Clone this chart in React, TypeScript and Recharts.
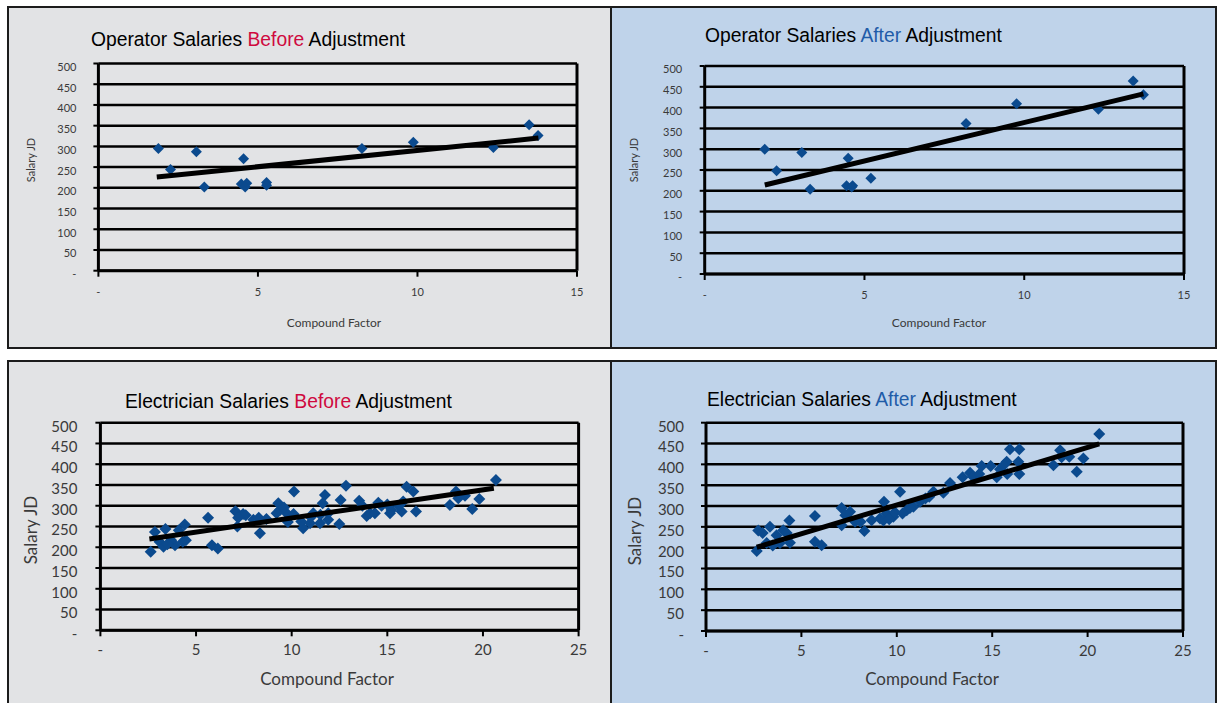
import React from 'react';
import { ScatterChart, Scatter, XAxis, YAxis, CartesianGrid, ReferenceLine } from 'recharts';

// ---------- DATA ----------
const operatorBefore = [
  { x: 1.88, y: 295 }, { x: 2.26, y: 244 }, { x: 3.07, y: 287 }, { x: 3.32, y: 202 },
  { x: 4.55, y: 270 }, { x: 4.48, y: 209 }, { x: 4.65, y: 211 }, { x: 4.6, y: 202 },
  { x: 5.27, y: 213 }, { x: 5.27, y: 206 }, { x: 8.26, y: 295 }, { x: 9.87, y: 310 },
  { x: 12.38, y: 297 }, { x: 13.5, y: 352 }, { x: 13.78, y: 326 },
];
const operatorBeforeTrend = [{ x: 1.83, y: 226 }, { x: 13.79, y: 320 }];

const operatorAfter = [
  { x: 1.88, y: 300 }, { x: 2.25, y: 248 }, { x: 3.04, y: 292 }, { x: 3.3, y: 204 },
  { x: 4.49, y: 278 }, { x: 4.44, y: 212 }, { x: 4.63, y: 212 }, { x: 4.6, y: 209 },
  { x: 5.2, y: 230 }, { x: 8.18, y: 362 }, { x: 9.76, y: 409 }, { x: 12.32, y: 396 },
  { x: 13.41, y: 464 }, { x: 13.73, y: 431 },
];
const operatorAfterTrend = [{ x: 1.88, y: 214 }, { x: 13.73, y: 433 }];

const electricianBefore = [
  { x: 2.63, y: 189 }, { x: 2.85, y: 237 }, { x: 3.4, y: 244 }, { x: 3.09, y: 213 },
  { x: 3.3, y: 201 }, { x: 3.9, y: 205 }, { x: 4.31, y: 213 }, { x: 4.1, y: 241 },
  { x: 4.41, y: 255 }, { x: 4.47, y: 217 }, { x: 3.7, y: 217 }, { x: 3.5, y: 207 },
  { x: 5.63, y: 271 }, { x: 5.83, y: 205 }, { x: 6.14, y: 197 },
  { x: 7.06, y: 287 }, { x: 7.16, y: 250 }, { x: 7.46, y: 280 }, { x: 7.6, y: 277 }, { x: 7.2, y: 271 },
  { x: 8.34, y: 234 }, { x: 8.0, y: 266 }, { x: 8.28, y: 271 }, { x: 8.68, y: 268 },
  { x: 9.3, y: 306 }, { x: 9.39, y: 290 }, { x: 9.21, y: 282 }, { x: 9.74, y: 282 }, { x: 9.6, y: 296 },
  { x: 9.8, y: 261 }, { x: 10.12, y: 334 }, { x: 10.1, y: 280 },
  { x: 10.6, y: 246 }, { x: 10.5, y: 262 }, { x: 10.96, y: 258 }, { x: 11.13, y: 282 }, { x: 11.0, y: 272 },
  { x: 11.48, y: 258 }, { x: 11.62, y: 306 }, { x: 11.74, y: 326 }, { x: 11.91, y: 266 }, { x: 11.91, y: 282 },
  { x: 11.5, y: 278 }, { x: 12.49, y: 256 }, { x: 12.56, y: 314 }, { x: 12.84, y: 348 },
  { x: 13.53, y: 312 }, { x: 13.7, y: 300 }, { x: 13.92, y: 275 }, { x: 14.1, y: 282 }, { x: 14.35, y: 282 },
  { x: 14.53, y: 307 }, { x: 14.7, y: 300 },
  { x: 15.14, y: 282 }, { x: 15.22, y: 290 }, { x: 15.0, y: 303 }, { x: 15.75, y: 286 }, { x: 15.83, y: 310 },
  { x: 16.01, y: 346 }, { x: 16.36, y: 334 }, { x: 16.5, y: 286 }, { x: 15.6, y: 300 },
  { x: 18.27, y: 302 }, { x: 18.59, y: 334 }, { x: 18.71, y: 318 }, { x: 19.06, y: 324 }, { x: 19.44, y: 292 },
  { x: 19.81, y: 316 }, { x: 20.68, y: 362 },
];
const electricianBeforeTrend = [{ x: 2.56, y: 220 }, { x: 20.57, y: 342 }];

const electricianAfter = [
  { x: 2.66, y: 192 }, { x: 2.74, y: 241 }, { x: 2.97, y: 235 }, { x: 3.35, y: 250 }, { x: 3.18, y: 211 },
  { x: 3.7, y: 230 }, { x: 3.88, y: 211 }, { x: 4.37, y: 265 }, { x: 4.05, y: 242 }, { x: 4.4, y: 212 },
  { x: 4.23, y: 235 }, { x: 3.5, y: 205 },
  { x: 5.71, y: 276 }, { x: 5.71, y: 214 }, { x: 6.06, y: 206 },
  { x: 7.11, y: 295 }, { x: 7.11, y: 254 }, { x: 7.55, y: 286 }, { x: 7.81, y: 262 }, { x: 7.3, y: 278 },
  { x: 8.3, y: 240 }, { x: 8.68, y: 266 }, { x: 8.1, y: 262 },
  { x: 9.12, y: 270 }, { x: 9.33, y: 310 }, { x: 9.47, y: 282 }, { x: 9.82, y: 274 }, { x: 9.3, y: 265 },
  { x: 9.6, y: 268 }, { x: 9.9, y: 285 },
  { x: 10.17, y: 334 }, { x: 10.52, y: 290 }, { x: 10.87, y: 298 }, { x: 10.69, y: 295 }, { x: 10.3, y: 282 },
  { x: 11.22, y: 310 }, { x: 11.5, y: 318 }, { x: 11.92, y: 334 }, { x: 11.7, y: 322 },
  { x: 12.44, y: 332 }, { x: 12.79, y: 355 },
  { x: 13.45, y: 369 }, { x: 13.84, y: 380 }, { x: 14.0, y: 370 }, { x: 14.32, y: 377 }, { x: 14.45, y: 396 },
  { x: 14.92, y: 396 }, { x: 15.24, y: 369 }, { x: 15.41, y: 388 }, { x: 15.76, y: 406 }, { x: 15.79, y: 377 },
  { x: 15.93, y: 436 }, { x: 16.42, y: 436 }, { x: 16.37, y: 406 }, { x: 16.42, y: 377 }, { x: 15.6, y: 398 },
  { x: 18.21, y: 398 }, { x: 18.56, y: 434 }, { x: 18.64, y: 417 }, { x: 19.04, y: 418 }, { x: 19.43, y: 382 },
  { x: 19.78, y: 414 }, { x: 20.61, y: 473 },
];
const electricianAfterTrend = [{ x: 2.66, y: 201 }, { x: 20.61, y: 449 }];

const yTicks = [0, 50, 100, 150, 200, 250, 300, 350, 400, 450, 500];
const operatorXTicks = [0, 5, 10, 15];
const electricianXTicks = [0, 5, 10, 15, 20, 25];

const titleStart = { operator: 'Operator Salaries ', electrician: 'Electrician Salaries ' };
const titleEnd = ' Adjustment';
const xLabel = 'Compound Factor';
const yLabel = 'Salary JD';

// ---------- STYLE ----------
const GRAY_BG = '#e2e3e5';
const BLUE_BG = '#bfd3ea';
const BEFORE_COLOR = '#cf0a3f';
const AFTER_COLOR = '#1f5ca8';
const MARKER = '#0b4a8e';
const TICK_FONT = 'Lato, "Open Sans", sans-serif';
const TITLE_FONT = '"Liberation Sans", Arial, sans-serif';

const fmt = (v: number) => (v === 0 ? '-' : String(v));

const makeDiamond = (r: number) => (props: any) => {
  const { cx, cy } = props;
  if (cx == null || cy == null) return <g />;
  return (
    <polygon
      points={`${cx},${cy - r} ${cx + r},${cy} ${cx},${cy + r} ${cx - r},${cy}`}
      fill={MARKER}
    />
  );
};
const NoShape = () => <g />;

type ChartProps = {
  left: number; top: number; w: number; h: number;
  margin: { top: number; right: number; bottom: number; left: number };
  xMax: number; xTicks: number[];
  points: { x: number; y: number }[];
  trend: { x: number; y: number }[];
  fontSize: number; yTickMargin: number; xTickMargin: number; r: number;
};

function Chart(p: ChartProps) {
  return (
    <div style={{ position: 'absolute', left: p.left, top: p.top, width: p.w, height: p.h }}>
      <ScatterChart width={p.w} height={p.h} margin={p.margin}>
        <CartesianGrid vertical={false} horizontal stroke="#000" strokeWidth={2.5} />
        <XAxis
          type="number" dataKey="x" domain={[0, p.xMax]} ticks={p.xTicks} interval={0}
          tickFormatter={fmt} height={30}
          axisLine={{ stroke: '#000', strokeWidth: 3 }}
          tickLine={{ stroke: '#000', strokeWidth: 2 }} tickSize={6} tickMargin={p.xTickMargin}
          tick={{ fontSize: p.fontSize, fill: '#3a3a3a', fontFamily: TICK_FONT }}
        />
        <YAxis
          type="number" dataKey="y" domain={[0, 500]} ticks={yTicks} interval={0}
          tickFormatter={fmt} width={60}
          axisLine={{ stroke: '#000', strokeWidth: 3 }}
          tickLine={{ stroke: '#000', strokeWidth: 2 }} tickSize={5} tickMargin={p.yTickMargin}
          tick={{ fontSize: p.fontSize, fill: '#3a3a3a', fontFamily: TICK_FONT, dy: 3.5 }}
        />
        <ReferenceLine x={p.xMax} stroke="#000" strokeWidth={3} />
        <Scatter data={p.points} shape={makeDiamond(p.r)} isAnimationActive={false} />
        <Scatter data={p.trend} shape={NoShape} line={{ stroke: '#000', strokeWidth: 5 }} isAnimationActive={false} />
      </ScatterChart>
    </div>
  );
}

function Title(props: { x: number; cy: number; start: string; word: string; color: string }) {
  return (
    <div style={{
      position: 'absolute', left: props.x, top: props.cy - 11, height: 22, lineHeight: '22px',
      fontSize: 19.3, fontFamily: TITLE_FONT, color: '#000', whiteSpace: 'nowrap',
    }}>
      {props.start}<span style={{ color: props.color }}>{props.word}</span>{titleEnd}
    </div>
  );
}

function XTitle(props: { cx: number; cy: number; size: number }) {
  return (
    <div style={{
      position: 'absolute', left: props.cx, top: props.cy, transform: 'translate(-50%,-50%)',
      fontSize: props.size, fontFamily: TICK_FONT, color: '#3a3a3a', whiteSpace: 'nowrap',
    }}>{xLabel}</div>
  );
}

function YTitle(props: { cx: number; cy: number; size: number }) {
  return (
    <div style={{
      position: 'absolute', left: props.cx, top: props.cy, transform: 'translate(-50%,-50%) rotate(-90deg)',
      fontSize: props.size, fontFamily: TICK_FONT, color: '#3a3a3a', whiteSpace: 'nowrap',
    }}>{yLabel}</div>
  );
}

const panelBase: React.CSSProperties = {
  position: 'absolute', boxSizing: 'border-box', border: '2px solid #1c1c1c',
};

export default function App() {
  return (
    <div style={{ position: 'absolute', left: 0, top: 0, width: 1218, height: 703, background: '#fff', overflow: 'hidden' }}>
      {/* panels */}
      <div style={{ ...panelBase, left: 7, top: 6, width: 605, height: 343, background: GRAY_BG }} />
      <div style={{ ...panelBase, left: 610, top: 6, width: 607, height: 343, background: BLUE_BG }} />
      <div style={{ ...panelBase, left: 7, top: 360, width: 605, height: 360, background: GRAY_BG }} />
      <div style={{ ...panelBase, left: 610, top: 360, width: 607, height: 360, background: BLUE_BG }} />

      {/* Operator before */}
      <Title x={91} cy={40} start={titleStart.operator} word="Before" color={BEFORE_COLOR} />
      <Chart left={0} top={0} w={611} h={350}
        margin={{ top: 63.5, right: 34, bottom: 49.3, left: 38.4 }}
        xMax={15} xTicks={operatorXTicks} points={operatorBefore} trend={operatorBeforeTrend}
        fontSize={11} yTickMargin={17} xTickMargin={11} r={5.5} />
      <XTitle cx={334} cy={322} size={12} />
      <YTitle cx={30} cy={160} size={11} />

      {/* Operator after */}
      <Title x={705} cy={36} start={titleStart.operator} word="After" color={AFTER_COLOR} />
      <Chart left={611} top={0} w={607} h={350}
        margin={{ top: 66, right: 34, bottom: 46, left: 33.7 }}
        xMax={15} xTicks={operatorXTicks} points={operatorAfter} trend={operatorAfterTrend}
        fontSize={11} yTickMargin={17.5} xTickMargin={11} r={5.5} />
      <XTitle cx={939} cy={322} size={12} />
      <YTitle cx={633} cy={160} size={11} />

      {/* Electrician before */}
      <Title x={125} cy={402} start={titleStart.electrician} word="Before" color={BEFORE_COLOR} />
      <Chart left={0} top={355} w={611} h={348}
        margin={{ top: 67.7, right: 32.4, bottom: 42.7, left: 40.4 }}
        xMax={25} xTicks={electricianXTicks} points={electricianBefore} trend={electricianBeforeTrend}
        fontSize={15} yTickMargin={18} xTickMargin={8} r={6} />
      <XTitle cx={327} cy={678} size={17} />
      <YTitle cx={30} cy={530} size={17} />

      {/* Electrician after */}
      <Title x={707} cy={400} start={titleStart.electrician} word="After" color={AFTER_COLOR} />
      <Chart left={611} top={355} w={607} h={348}
        margin={{ top: 67.7, right: 35, bottom: 42, left: 35 }}
        xMax={25} xTicks={electricianXTicks} points={electricianAfter} trend={electricianAfterTrend}
        fontSize={15} yTickMargin={17} xTickMargin={8} r={6} />
      <XTitle cx={932} cy={678} size={17} />
      <YTitle cx={634} cy={531} size={17} />
    </div>
  );
}
